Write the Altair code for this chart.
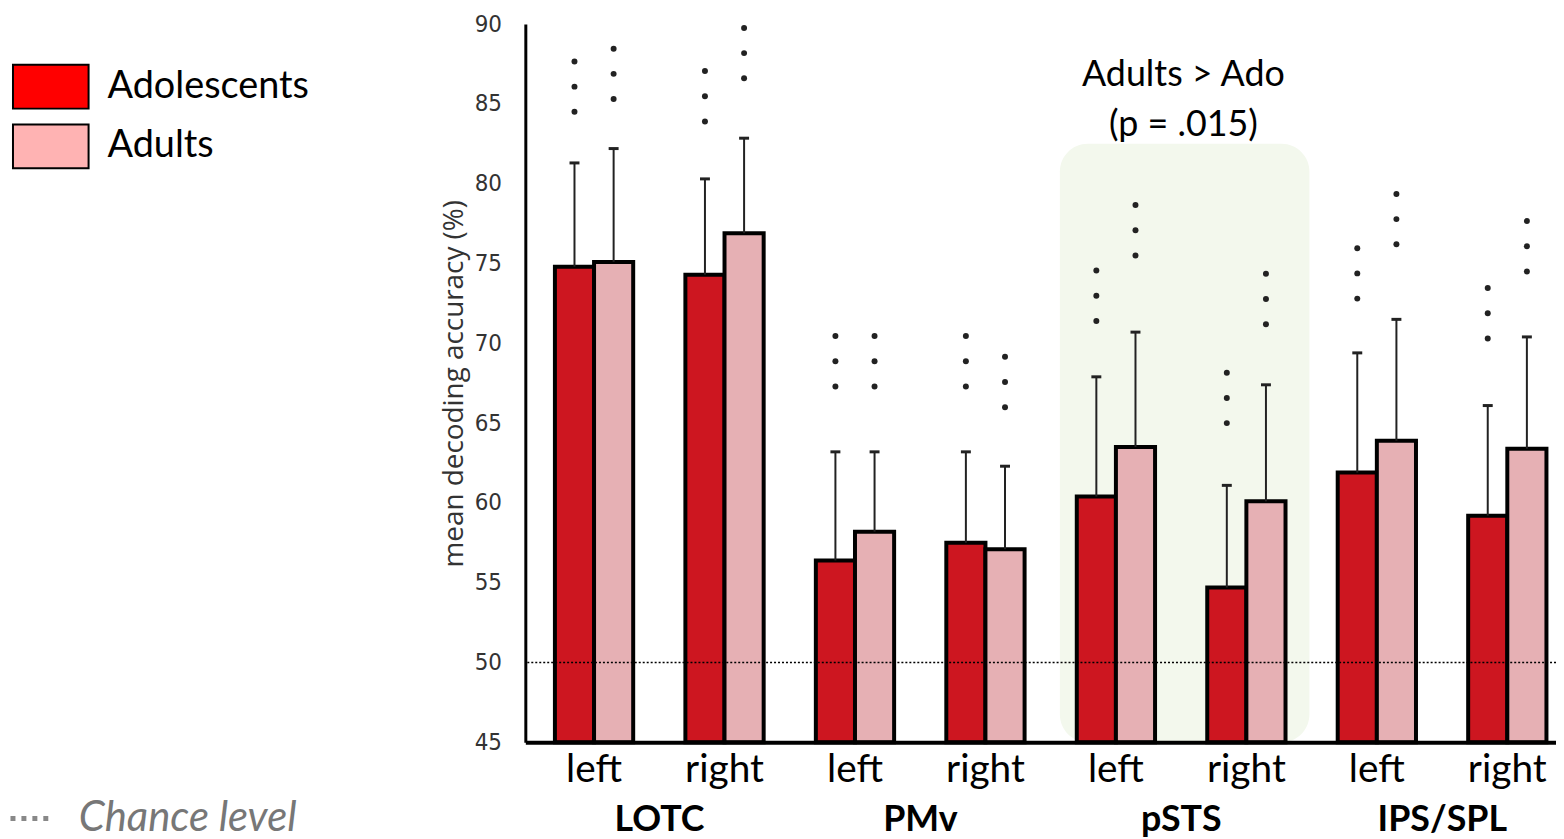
import altair as alt
import pandas as pd

regions = ["LOTC", "PMv", "pSTS", "IPS/SPL"]
hemis = ["left", "right"]
groups = ["Adolescents", "Adults"]

# order: LOTC-left, LOTC-right, PMv-left, PMv-right, pSTS-left, pSTS-right, IPS-left, IPS-right
ado_mean = [74.8, 74.3, 56.4, 57.5, 60.4, 54.7, 61.9, 59.2]
adult_mean = [75.1, 76.9, 58.2, 57.1, 63.5, 60.1, 63.9, 63.4]
ado_err = [81.3, 80.3, 63.2, 63.2, 67.9, 61.1, 69.4, 66.1]
adult_err = [82.2, 82.85, 63.2, 62.3, 70.7, 67.4, 71.5, 70.4]
ado_star = [84.5, 83.9, 67.3, 67.3, 71.4, 65.0, 72.8, 70.3]
adult_star = [85.3, 86.6, 67.3, 66.0, 75.5, 71.2, 76.2, 74.5]

annot_lines = ["Adults > Ado", "(p = .015)"]
annot_y = [86.8, 83.7]
box_top = 82.5
chance = 50

rois = [f"{r} {h}" for r in regions for h in hemis]
rows = []
for i, roi in enumerate(rois):
    r, h = roi.split(" ")
    rows.append(dict(roi=roi, region=r, hemi=h, group="Adolescents",
                     mean=ado_mean[i], err=ado_err[i], star=ado_star[i]))
    rows.append(dict(roi=roi, region=r, hemi=h, group="Adults",
                     mean=adult_mean[i], err=adult_err[i], star=adult_star[i]))
df = pd.DataFrame(rows)

region_df = pd.DataFrame({"region": regions, "roi_r": [f"{r} right" for r in regions]})
annot_df = pd.DataFrame({"txt": annot_lines, "y": annot_y, "roi_r": ["pSTS right"] * 2})
box_df = pd.DataFrame({"x1": ["pSTS left"], "x2": ["pSTS right"], "top": [box_top]})
legend_df = pd.DataFrame({"who": groups})
chance_df = pd.DataFrame({"c": [chance], "lab": ["Chance level"]})

xscale = alt.Scale(domain=rois, paddingInner=0.4, paddingOuter=0.15, align=0.756)
yscale = alt.Scale(domain=[45, 90], zero=False, nice=False)
offscale = alt.Scale(domain=groups, paddingInner=0, paddingOuter=0)

X = alt.X("roi:N", scale=xscale, sort=rois,
          axis=alt.Axis(title=None, labelExpr="split(datum.label, ' ')[1]", labelAngle=0,
                        ticks=False, domainColor="black", domainWidth=4, bandPosition=0.5,
                        labelBaseline="top", labelAlign="center",
                        labelFont="Lato", labelFontSize=39, labelColor="black",
                        labelPadding=8))
Y = alt.Y("mean:Q", scale=yscale,
          axis=alt.Axis(title="mean decoding accuracy (%)", values=list(range(45, 91, 5)),
                        ticks=False, grid=False, domainColor="black", domainWidth=3,
                        labelFont="'Liberation Sans Narrow', 'DejaVu Sans Condensed', Roboto, sans-serif",
                        labelFontSize=24,
                        labelColor="#333", labelPadding=24,
                        titleFont="Open Sans", titleFontSize=28, titleFontWeight="normal",
                        titleColor="#333", titlePadding=6))
XO = alt.XOffset("group:N", scale=offscale, sort=groups)

base = alt.Chart(df)

box = alt.Chart(box_df).mark_rect(color="#f3f8ed", cornerRadius=28, xOffset=-17, x2Offset=24).encode(
    x=alt.X("x1:N", scale=xscale, sort=rois, bandPosition=0),
    x2=alt.X2("x2", bandPosition=1),
    y=alt.Y("top:Q", scale=yscale),
    y2=alt.datum(45),
)

bars = base.mark_bar(stroke="black", strokeWidth=4).encode(
    x=X, xOffset=XO, y=Y, y2=alt.datum(45),
    color=alt.Color("group:N", scale=alt.Scale(domain=groups, range=["#cd1620", "#e6b0b4"]),
                    legend=None),
)

errs = base.mark_rule(color="#222", strokeWidth=2).encode(
    x="roi:N", xOffset=XO, y="mean:Q", y2="err:Q")

caps = base.mark_tick(color="#222", thickness=3, size=10, orient="horizontal", opacity=1).encode(
    x="roi:N", xOffset=XO, y="err:Q")

stars = base.transform_calculate(k="[0, 1, 2]").transform_flatten(["k"]).transform_calculate(
    sy="datum.star + datum.k * 1.58").mark_point(
    filled=True, shape="circle", size=36, color="#222", opacity=1).encode(
    x="roi:N", xOffset=XO, y="sy:Q")

chance_rule = alt.Chart(pd.DataFrame({"c": [chance]})).mark_rule(
    color="black", strokeWidth=1.5, strokeDash=[2, 2]).encode(y="c:Q")

region_txt = alt.Chart(region_df).mark_text(
    font="Lato", fontWeight="bold", fontSize=36, xOffset=-26, baseline="middle", color="black").encode(
    x=alt.X("roi_r:N", scale=xscale, sort=rois, bandPosition=0),
    y=alt.value(800),
    text="region:N")

annot = alt.Chart(annot_df).mark_text(
    font="Lato", fontSize=36, xOffset=-24, baseline="middle", color="black").encode(
    x=alt.X("roi_r:N", scale=xscale, sort=rois, bandPosition=0),
    y=alt.Y("y:Q", scale=yscale),
    text="txt:N")

rect_path = "M-1.727,-1H1.727V1H-1.727Z"
legend_layer = alt.Chart(legend_df).transform_filter("false").mark_point(
    filled=True, shape=rect_path, opacity=1, stroke="black", strokeWidth=2).encode(
    color=alt.Color("who:N", scale=alt.Scale(domain=groups, range=["#ff0000", "#ffb3b3"]),
                    legend=alt.Legend(title=None, orient="none", legendX=-500, legendY=40,
                                      symbolType=rect_path, symbolSize=1936,
                                      symbolStrokeColor="black", symbolStrokeWidth=2,
                                      symbolOpacity=1,
                                      labelFont="Lato", labelFontSize=38, labelColor="black",
                                      labelOffset=34, rowPadding=8, padding=0, labelLimit=400)),
)

chance_legend = alt.Chart(chance_df).transform_filter(
    "false").mark_rule(color="#888", strokeWidth=5).encode(
    y="c:Q",
    strokeDash=alt.StrokeDash("lab:N", scale=alt.Scale(domain=["Chance level"], range=[[5, 6]]),
                              legend=alt.Legend(title=None, orient="none", legendX=-520, legendY=774,
                                                symbolSize=1936, symbolStrokeColor="#888",
                                                symbolStrokeWidth=5, labelFont="Lato",
                                                labelFontSize=42, labelFontStyle="italic",
                                                labelColor="#777", labelOffset=22, padding=0,
                                                labelLimit=400)),
)

chart = alt.layer(box, bars, errs, caps, stars, chance_rule, region_txt, annot,
                  legend_layer, chance_legend).resolve_scale(
    color="independent").resolve_legend(color="independent").properties(
    width=1036, height=722,
    autosize=alt.AutoSizeParams(type="none"),
    padding={"left": 520, "top": 14, "right": 0, "bottom": 95},
).configure_view(stroke=None)

chart.save("out.html", embed_options={"renderer": "svg", "actions": False})
